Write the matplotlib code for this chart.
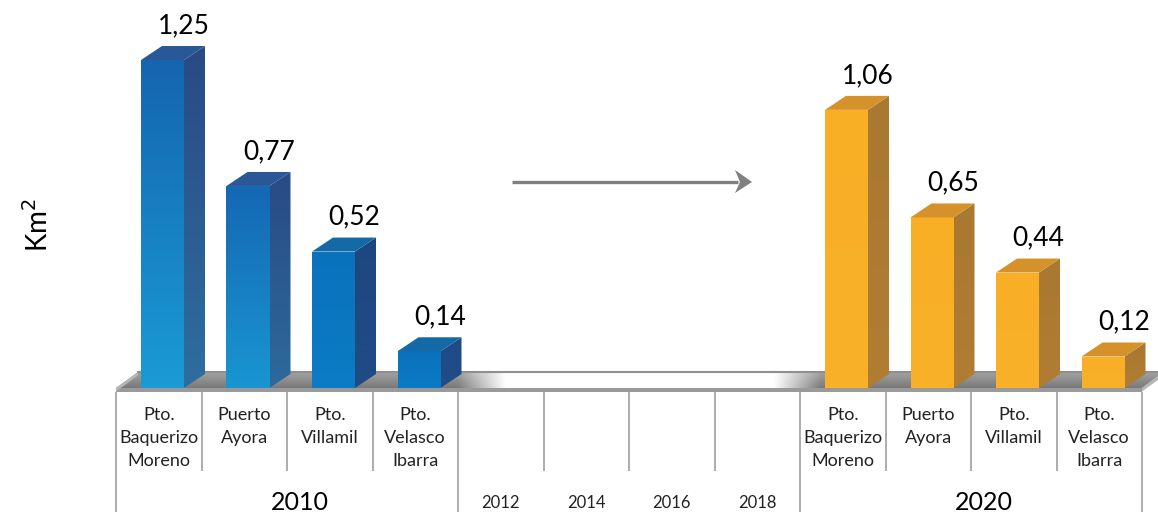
import numpy as np
import matplotlib
matplotlib.use("Agg")
import matplotlib.pyplot as plt
from matplotlib.patches import Polygon
from matplotlib.colors import to_rgb

plt.rcParams['font.family'] = ['Lato', 'DejaVu Sans']

# ---------------- data ----------------
cities = ["Pto.\nBaquerizo\nMoreno", "Puerto\nAyora", "Pto.\nVillamil", "Pto.\nVelasco\nIbarra"]
values_2010 = [1.25, 0.77, 0.52, 0.14]
values_2020 = [1.06, 0.65, 0.44, 0.12]
value_labels_2010 = ["1,25", "0,77", "0,52", "0,14"]
value_labels_2020 = ["1,06", "0,65", "0,44", "0,12"]
mid_years = ["2012", "2014", "2016", "2018"]
group_years = ["2010", "2020"]
ylabel = "Km$^2$"

# ---------------- layout ----------------
W, H = 1158, 515
fig = plt.figure(figsize=(W / 100, H / 100), dpi=100)
ax = fig.add_axes([0, 0, 1, 1])
SLOT = 85.5           # px per slot
UNIT = 262.4          # px per km2
X0PX, Y0PX = 116, 388
ax.set_xlim(-X0PX / SLOT, (W - X0PX) / SLOT)
ax.set_ylim(-(H - Y0PX) / UNIT, Y0PX / UNIT)
ax.axis('off')

def vy(py):  # pixel y -> data
    return (Y0PX - py) / UNIT

def vx(px):  # pixel x -> data
    return (px - X0PX) / SLOT

DX = 21 / SLOT
DY = 14 / UNIT
BAR_OFF = 25 / SLOT
BAR_W = 43 / SLOT

# ---------------- floor ----------------
FDX = 22 / SLOT
FDY = 16 / UNIT
n_slots = 12
floor_top = [(0, 0), (n_slots, 0), (n_slots + FDX, FDY), (FDX, FDY)]
nx, ny = 600, 20
xs = np.linspace(0, n_slots + FDX, nx)
left = np.clip((xs - 4.0) / 0.55, 0, 1)
right = np.clip((8.25 - xs) / 0.55, 0, 1)
wmix = np.minimum(left, right)
img = np.zeros((ny, nx, 3))
for j in range(ny):
    t = j / (ny - 1)
    gray = np.array(to_rgb("#7a7a7a")) * (1 - 0.3 * t) + np.array([1, 1, 1]) * 0.3 * t
    for c in range(3):
        img[j, :, c] = gray[c] * (1 - wmix) + 1.0 * wmix
floor_patch = Polygon(floor_top, closed=True, facecolor='none', edgecolor='none')
ax.add_patch(floor_patch)
im = ax.imshow(img, extent=[0, n_slots + FDX, 0, FDY], origin='lower', aspect='auto',
               interpolation='bilinear', zorder=1)
im.set_clip_path(floor_patch)
ax.plot([FDX, n_slots + FDX], [FDY, FDY], color="#8f8f8f", lw=1.5, zorder=2)
EDGE = 3.5 / UNIT
ax.add_patch(Polygon([(0, 0), (n_slots, 0), (n_slots, -EDGE), (0, -EDGE)],
                     facecolor="#9a9a9a", edgecolor="none", zorder=2))
ax.add_patch(Polygon([(n_slots, 0), (n_slots + FDX, FDY), (n_slots + FDX, FDY - EDGE), (n_slots, -EDGE)],
                     facecolor="#b5b5b5", edgecolor="none", zorder=2))
ax.add_patch(Polygon([(0, 0), (FDX, FDY), (FDX, FDY - EDGE), (0, -EDGE)],
                     facecolor="#b5b5b5", edgecolor="none", zorder=2))

# ---------------- bars ----------------
def draw_bar(x, h, front_top, front_bot, side_top, side_bot, top_col, z):
    grad = np.linspace(0, 1, 64)[:, None, None]
    front = Polygon([(x, 0), (x + BAR_W, 0), (x + BAR_W, h), (x, h)], closed=True,
                    facecolor='none', edgecolor='none', zorder=z)
    ax.add_patch(front)
    c1, c2 = np.array(to_rgb(front_top)), np.array(to_rgb(front_bot))
    fimg = np.repeat(c2 * (1 - grad) + c1 * grad, 2, axis=1)
    imf = ax.imshow(fimg, extent=[x, x + BAR_W, 0, h], origin='lower', aspect='auto',
                    interpolation='bilinear', zorder=z)
    imf.set_clip_path(front)
    side = Polygon([(x + BAR_W, 0), (x + BAR_W + DX, DY), (x + BAR_W + DX, h + DY), (x + BAR_W, h)],
                   closed=True, facecolor='none', edgecolor='none', zorder=z)
    ax.add_patch(side)
    s1, s2 = np.array(to_rgb(side_top)), np.array(to_rgb(side_bot))
    simg = np.repeat(s2 * (1 - grad) + s1 * grad, 2, axis=1)
    ims = ax.imshow(simg, extent=[x + BAR_W, x + BAR_W + DX, 0, h + DY], origin='lower',
                    aspect='auto', interpolation='bilinear', zorder=z)
    ims.set_clip_path(side)
    ax.add_patch(Polygon([(x, h), (x + BAR_W, h), (x + BAR_W + DX, h + DY), (x + DX, h + DY)],
                         closed=True, facecolor=top_col, edgecolor='none', zorder=z + 0.1))

blue_front = [("#1565b0", "#1a9bd6"), ("#1568b3", "#1a95d2"), ("#0a72bc", "#0a7cc5"), ("#0a72bd", "#0a7ac4")]
blue_side = [("#294a85", "#2e6e9f"), ("#294a85", "#2d6a9c"), ("#1f477f", "#1f4c86"), ("#1f4a85", "#1f4e88")]
blue_top = ["#2a5897", "#2a5795", "#136aa6", "#136aa6"]

LABEL_FS = 19
for i, v in enumerate(values_2010):
    x = i + BAR_OFF
    draw_bar(x, v, blue_front[i][0], blue_front[i][1], blue_side[i][0], blue_side[i][1],
             blue_top[i], 3)
    ax.text(x + BAR_W / 2 + DX, v + DY + 0.03, value_labels_2010[i], ha='center', va='bottom',
            fontsize=LABEL_FS, color='black', zorder=5)

for i, v in enumerate(values_2020):
    x = 8 + i + BAR_OFF
    draw_bar(x, v, "#f8af26", "#f9b12a", "#a97831", "#b07d33", "#d6922a", 3)
    ax.text(x + BAR_W / 2 + DX, v + DY + 0.03, value_labels_2020[i], ha='center', va='bottom',
            fontsize=LABEL_FS, color='black', zorder=5)

# ---------------- category table ----------------
line_col = "#a6a6a6"
y_top = vy(392)
y_inner = vy(471)
y_outer = vy(512)
for b in range(n_slots + 1):
    bottom = y_outer if b in (0, 4, 8, 12) else y_inner
    ax.plot([b, b], [y_top, bottom], color=line_col, lw=1.3, zorder=2, solid_capstyle='butt')

for g, start in enumerate([0, 8]):
    for i, name in enumerate(cities):
        ax.text(start + i + 0.5, vy(407), name, ha='center', va='top', fontsize=13,
                linespacing=1.55, color='#222222')
    ax.text(start + 2 + 0.15, vy(503), group_years[g], ha='center', va='center', fontsize=18,
            color='black')

for i, yr in enumerate(mid_years):
    ax.text(4 + i + 0.5, vy(503), yr, ha='center', va='center', fontsize=12, color='#222222')

# ---------------- arrow ----------------
ay = vy(182)
ax.plot([vx(512), vx(738)], [ay, ay], color="#808080", lw=2.4, solid_capstyle='butt', zorder=4)
ax.add_patch(Polygon([(vx(752), ay), (vx(735), vy(170)), (vx(740), ay), (vx(735), vy(193))],
                     closed=True, facecolor="#808080", edgecolor='none', zorder=4))

# ---------------- y label ----------------
ax.text(vx(38), vy(225), ylabel, rotation=90, ha='center', va='center',
        fontsize=20, color='black')

fig.savefig("out.png", dpi=100)
